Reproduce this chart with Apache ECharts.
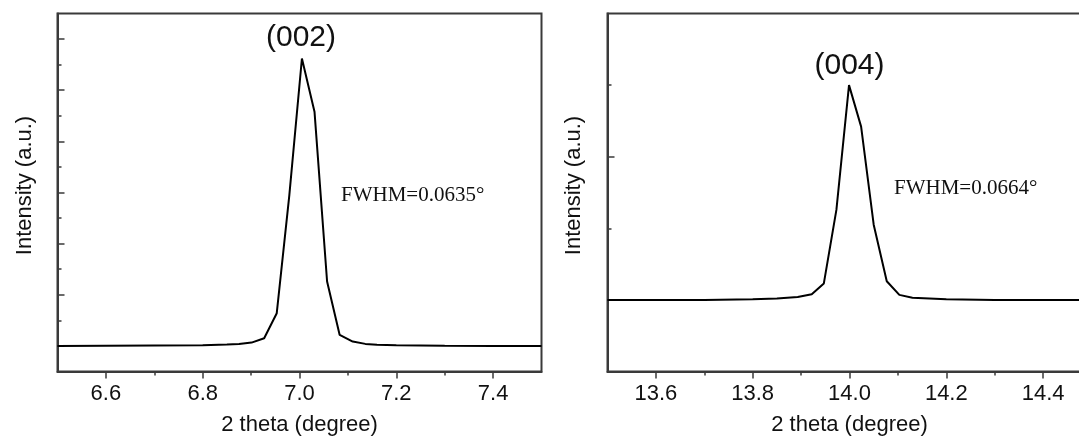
<!DOCTYPE html>
<html>
<head>
<meta charset="utf-8">
<script src="https://cdn.jsdelivr.net/npm/echarts@6/dist/echarts.min.js"></script>
<style>
html,body{margin:0;padding:0;background:#fff;}
#chart{width:1079px;height:441px;}
</style>
</head>
<body>
<div id="chart"></div>
<script>
// ---- data (2 theta in degrees, intensity in arbitrary units) ----
const leftTheta = [6.5, 6.6, 6.7, 6.8, 6.85, 6.875, 6.901, 6.927, 6.953, 6.979, 7.005, 7.031, 7.057, 7.083, 7.11, 7.136, 7.16, 7.2, 7.3, 7.4, 7.5];
const leftIntensity = [0, 0.01, 0.02, 0.03, 0.06, 0.08, 0.13, 0.30, 1.28, 5.9, 11.24, 9.16, 2.52, 0.43, 0.17, 0.08, 0.05, 0.03, 0.01, 0, 0];
const rightTheta = [13.5, 13.6, 13.7, 13.8, 13.85, 13.893, 13.922, 13.947, 13.973, 13.999, 14.024, 14.05, 14.077, 14.103, 14.13, 14.2, 14.3, 14.4, 14.5];
const rightIntensity = [0, 0, 0, 0.01, 0.02, 0.04, 0.08, 0.23, 1.26, 3.0, 2.42, 1.05, 0.26, 0.07, 0.03, 0.01, 0, 0, 0];

const leftXMajor = [6.6, 6.8, 7.0, 7.2, 7.4];
const leftXMinor = [6.7, 6.9, 7.1, 7.3];
const rightXMajor = [13.6, 13.8, 14.0, 14.2, 14.4];
const rightXMinor = [13.7, 13.9, 14.1, 14.3];
const leftYMajor = [0, 2, 4, 6, 8, 10, 12];
const leftYMinor = [1, 3, 5, 7, 9, 11];
const rightYMajor = [0, 2];
const rightYMinor = [1, 3];

const xName = '2 theta (degree)';
const yName = 'Intensity (a.u.)';
const leftPeakLabel = '(002)';
const rightPeakLabel = '(004)';
const leftFwhm = 'FWHM=0.0635°';
const rightFwhm = 'FWHM=0.0664°';

// ---- chart ----
const AXIS = '#3a3a3a';
const TXT = '#111';
const FONT = 'Liberation Sans, Arial, sans-serif';

function majorX(gridIndex, min, max, ticks) {
  return {
    type: 'value', gridIndex, min, max, position: 'bottom',
    name: xName, nameLocation: 'middle', nameGap: 42,
    nameTextStyle: {fontFamily: FONT, fontSize: 22, color: TXT},
    axisLine: {show: true, onZero: false, lineStyle: {color: AXIS, width: 2}},
    axisTick: {show: true, inside: false, length: 7, customValues: ticks, lineStyle: {color: AXIS, width: 1.5}},
    axisLabel: {show: true, margin: 11, customValues: ticks, fontFamily: FONT, fontSize: 22, color: TXT,
      hideOverlap: false, formatter: v => Number(v).toFixed(1)},
    splitLine: {show: false}, minorTick: {show: false}
  };
}
function minorX(gridIndex, min, max, ticks) {
  return {
    type: 'value', gridIndex, min, max, position: 'bottom',
    axisLine: {show: false, onZero: false},
    axisTick: {show: true, inside: false, length: 4, customValues: ticks, lineStyle: {color: AXIS, width: 1.5}},
    axisLabel: {show: false}, splitLine: {show: false}
  };
}
function majorY(gridIndex, min, max, ticks, gap) {
  return {
    type: 'value', gridIndex, min, max, position: 'left',
    name: yName, nameLocation: 'middle', nameGap: gap, nameRotate: 90,
    nameTextStyle: {fontFamily: FONT, fontSize: 22, color: TXT, padding: [0, 0, 0, 14]},
    axisLine: {show: true, onZero: false, lineStyle: {color: AXIS, width: 2}},
    axisTick: {show: true, inside: true, length: 7, customValues: ticks, lineStyle: {color: AXIS, width: 1.5}},
    axisLabel: {show: false}, splitLine: {show: false}
  };
}
function minorY(gridIndex, min, max, ticks) {
  return {
    type: 'value', gridIndex, min, max, position: 'left',
    axisLine: {show: false, onZero: false},
    axisTick: {show: true, inside: true, length: 4, customValues: ticks, lineStyle: {color: AXIS, width: 1.5}},
    axisLabel: {show: false}, splitLine: {show: false}
  };
}

const chart = echarts.init(document.getElementById('chart'), null, {renderer: 'canvas'});
chart.setOption({
  animation: false,
  backgroundColor: '#fff',
  grid: [
    {left: 57.5, top: 13.5, width: 484, height: 358, containLabel: false, outerBoundsMode: 'none',
     show: true, borderColor: AXIS, borderWidth: 2, backgroundColor: 'transparent'},
    {left: 607.5, top: 13.5, width: 484, height: 358, containLabel: false, outerBoundsMode: 'none',
     show: true, borderColor: AXIS, borderWidth: 2, backgroundColor: 'transparent'}
  ],
  xAxis: [
    majorX(0, 6.5, 7.5, leftXMajor),
    minorX(0, 6.5, 7.5, leftXMinor),
    majorX(1, 13.5, 14.5, rightXMajor),
    minorX(1, 13.5, 14.5, rightXMinor)
  ],
  yAxis: [
    majorY(0, -1, 13, leftYMajor, 22),
    minorY(0, -1, 13, leftYMinor),
    majorY(1, -1, 4, rightYMajor, 23),
    minorY(1, -1, 4, rightYMinor)
  ],
  series: [
    {type: 'line', xAxisIndex: 0, yAxisIndex: 0, symbol: 'none', smooth: false,
     lineStyle: {color: '#000', width: 2},
     data: leftTheta.map((t, i) => [t, leftIntensity[i]])},
    {type: 'line', xAxisIndex: 2, yAxisIndex: 2, symbol: 'none', smooth: false,
     lineStyle: {color: '#000', width: 2},
     data: rightTheta.map((t, i) => [t, rightIntensity[i]])}
  ],
  graphic: [
    {type: 'text', x: 301, y: 38, style: {text: leftPeakLabel, fontFamily: FONT, fontSize: 30, fill: TXT, align: 'center', verticalAlign: 'middle'}},
    {type: 'text', x: 849.5, y: 65.5, style: {text: rightPeakLabel, fontFamily: FONT, fontSize: 30, fill: TXT, align: 'center', verticalAlign: 'middle'}},
    {type: 'text', x: 341, y: 195, style: {text: leftFwhm, fontFamily: 'Liberation Serif, Times New Roman, serif', fontSize: 21, fill: TXT, align: 'left', verticalAlign: 'middle'}},
    {type: 'text', x: 894, y: 188, style: {text: rightFwhm, fontFamily: 'Liberation Serif, Times New Roman, serif', fontSize: 21, fill: TXT, align: 'left', verticalAlign: 'middle'}}
  ]
});
</script>
</body>
</html>
